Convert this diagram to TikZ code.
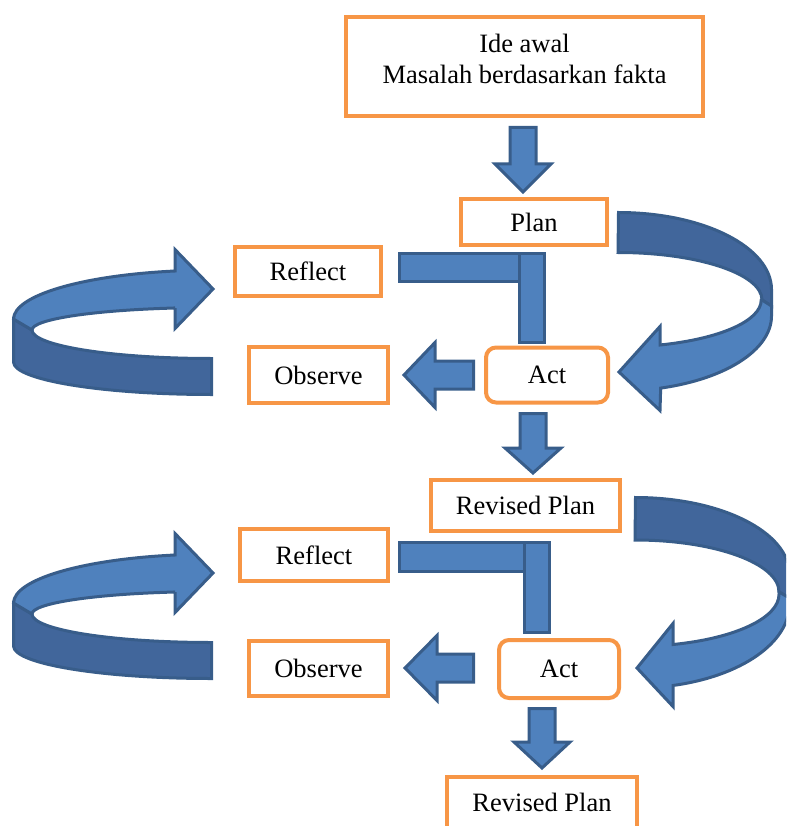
\documentclass[tikz,border=0pt]{standalone}
\usepackage{fontspec}
\setmainfont{Liberation Serif}
\definecolor{boxorange}{HTML}{F79646}
\definecolor{arrowblue}{HTML}{4F81BD}
\definecolor{arrowdark}{HTML}{41669B}
\definecolor{arrowedge}{HTML}{385D8A}
% block arrows: x, shaft top, head base, tip
\newcommand{\blockdown}[4]{\draw[blockfront] (#1-13,#2) -- (#1+13,#2) -- (#1+13,#3) -- (#1+28,#3) -- (#1,#4) -- (#1-28,#3) -- (#1-13,#3) -- cycle;}
% y, shaft right, head base, tip
\newcommand{\blockleft}[4]{\draw[blockfront] (#2,#1-14) -- (#2,#1+14) -- (#3,#1+14) -- (#3,#1+32.5) -- (#4,#1) -- (#3,#1-32.5) -- (#3,#1-14) -- cycle;}
\newcommand{\leftloop}{%
\draw[blockback] (13.5,319) -- (13.5,362) arc[start angle=180,end angle=90,x radius=198,y radius=32.5] -- (211.5,358.5) arc[start angle=90,end angle=180,x radius=179.5,y radius=28.5] -- cycle;
\draw[blockfront] (175,308) -- (175,328.5) -- (213,289) -- (175,249.5) -- (175,271) arc[start angle=259,end angle=180,x radius=199.5,y radius=49] -- (32,330) arc[start angle=180,end angle=257.9,x radius=181,y radius=22.5] -- cycle;}
\begin{document}
\begin{tikzpicture}[
   x=1pt, y=-1pt,
   font=\fontsize{26.5}{31}\selectfont,
   box/.style={draw=boxorange,line width=4pt,fill=white,inner sep=0pt},
   roundbox/.style={box,rounded corners=10pt},
   blockfront/.style={fill=arrowblue,draw=arrowedge,line width=3pt},
   blockback/.style={fill=arrowdark,draw=arrowedge,line width=3pt}]
\useasboundingbox (0,0) rectangle (786,826);
\clip (0,0) rectangle (786,826);
% boxes
\node[box,minimum width=357pt,minimum height=99pt] (ide) at (524.5,66.5) {};
\node[align=center] (idetext) at (524.5,58.5) {Ide awal\\Masalah berdasarkan fakta};
\node[box,minimum width=146pt,minimum height=46pt] (plan) at (534,222) {Plan};
\node[box,minimum width=146pt,minimum height=49pt] (reflect1) at (308,271) {Reflect};
\node[box,minimum width=139pt,minimum height=56pt] (observe1) at (318.5,375) {Observe};
\node[roundbox,minimum width=122pt,minimum height=55pt] (act1) at (547,375) {Act};
\node[box,minimum width=189pt,minimum height=51pt] (revplan1) at (525.5,505) {Revised Plan};
\node[box,minimum width=148pt,minimum height=52pt] (reflect2) at (314,555) {Reflect};
\node[box,minimum width=139pt,minimum height=55pt] (observe2) at (318.5,668) {Observe};
\node[roundbox,minimum width=120pt,minimum height=58pt] (act2) at (559,669) {Act};
\node[box,minimum width=190pt,minimum height=51pt] (revplan2) at (542,802) {Revised Plan};
% straight arrows
\blockdown{523}{127.5}{164}{192}
\blockdown{533}{413.5}{448}{473}
\blockdown{542}{708.5}{742}{768}
\blockleft{375}{473.5}{435}{404}
\blockleft{668}{473.5}{437}{405}
% bent bars
\draw[blockfront] (399.5,253.5) rectangle (544.5,281.5);
\draw[blockfront] (519.5,253.5) rectangle (544.5,342.5);
\draw[blockfront] (399.5,542.5) rectangle (549.5,571.5);
\draw[blockfront] (524.5,542.5) rectangle (549.5,632.5);
% right loops
\draw[blockback] (618.5,212.5) arc[start angle=-90,end angle=0,x radius=153,y radius=77] -- (771.5,306) -- (762,300) arc[start angle=0,end angle=-90,x radius=144,y radius=47.5] -- cycle;
\draw[blockfront] (762,300) -- (771.5,306) -- (771.5,316) arc[start angle=0,end angle=74,x radius=153,y radius=75] -- (660,410.5) -- (619,372) -- (660,326.5) -- (660,345) arc[start angle=72.7,end angle=0,x radius=144,y radius=47] -- cycle;
\draw[blockback] (635.5,497.5) arc[start angle=-90,end angle=0,x radius=154,y radius=77] -- (789.5,598) -- (779,592) arc[start angle=0,end angle=-90,x radius=144,y radius=52] -- cycle;
\draw[blockfront] (779,592) -- (789.5,598) -- (789.5,604) arc[start angle=0,end angle=75.9,x radius=154,y radius=84] -- (673,706.5) -- (637,668) -- (673,623.5) -- (673,644.5) arc[start angle=74.7,end angle=0,x radius=144,y radius=52] -- cycle;
% left loops
\leftloop
\begin{scope}[shift={(0,284)}]
\leftloop
\end{scope}
\end{tikzpicture}
\end{document}
